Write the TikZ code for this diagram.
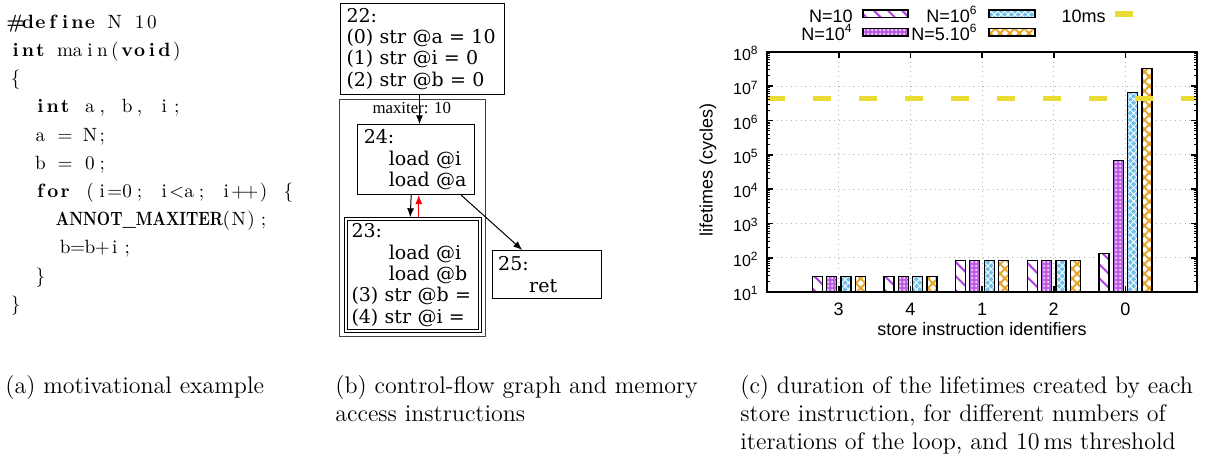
\documentclass[tikz,border=0pt]{standalone}
\usepackage{fontspec}
\usepackage{graphicx}
\usetikzlibrary{arrows.meta,patterns.meta}

\newfontfamily\chartfont{Liberation Sans}
\newfontfamily\cfgfont{DejaVu Serif}
\newfontfamily\clusterfont{Liberation Serif}

\definecolor{gpPurple}{RGB}{178,64,224}
\definecolor{gpBlue}{RGB}{112,192,236}
\definecolor{gpOrange}{RGB}{232,165,40}
\definecolor{gpYellow}{RGB}{234,220,50}

%% plot frame (pixels of the page)
\def\plotL{767}
\def\plotR{1197}
\def\plotT{52}
\def\plotB{292}
\def\plotDec{34.286}
\def\tenmsY{98.3}
%% listing
\def\codeX{9}
\def\codeY{28.3}
\def\codeSkip{28.2}

\newlength\colw
\setlength\colw{6.2pt}
\def\kwon{}
\def\kwoff{}
\def\chkwon{\kwon}
\def\chkwoff{\kwoff}
\makeatletter
\newcommand\codeline[1]{\@tfor\ch:=#1\do{%
  \ifx\ch\chkwon\bfseries\else\ifx\ch\chkwoff\mdseries\else
  \makebox[\colw][c]{\ch}\fi\fi}}
\makeatother

\tikzset{
  codetext/.style = {inner sep = 0, anchor = base west,
    font = \fontsize{9.6}{11}\selectfont},
  caption/.style = {inner sep = 0, anchor = north west, align = left,
    font = \fontsize{12}{14}\selectfont},
  cfgbox/.style = {draw, rectangle, anchor = north west, line width = 0.5pt,
    inner xsep = 3pt, inner ysep = 0pt, align = left,
    font = \cfgfont\fontsize{9.5}{10.65}\selectfont},
  cfgedge/.style = {-{Latex[length = 4.5pt, width = 3.5pt]}, line width = 0.5pt},
  chartgrid/.style = {gray!60, line width = 0.4pt, dash pattern = on 0.4pt off 2pt},
  charttext/.style = {inner sep = 0, font = \chartfont\fontsize{9}{10}\selectfont},
  ticklabel/.style = {inner sep = 0, anchor = base east,
    font = \chartfont\fontsize{8}{9}\selectfont},
  nten/.style = {draw = black, line width = 0.6pt, preaction = {fill = white},
    pattern = {Lines[angle = -45, distance = 5pt, line width = 1pt]},
    pattern color = gpPurple},
  ntenfour/.style = {draw = black, line width = 0.6pt, preaction = {fill = gpPurple!85},
    pattern = {Dots[distance = 2pt, radius = 0.5pt]}, pattern color = white},
  ntensix/.style = {draw = black, line width = 0.6pt, preaction = {fill = gpBlue},
    pattern = {Hatch[angle = 45, distance = 2.4pt, line width = 0.45pt]},
    pattern color = white},
  nfivesix/.style = {draw = black, line width = 0.6pt, preaction = {fill = white},
    pattern = {Hatch[angle = 45, distance = 3.4pt, line width = 1pt]},
    pattern color = gpOrange},
  tenms/.style = {gpYellow, line width = 2.8pt},
}

\begin{document}
\begin{tikzpicture}[x = 0.5pt, y = -0.5pt]
  \useasboundingbox (0,0) rectangle (1206,466);

  %% (a) listing
  \node [codetext] (line1) at (\codeX,{\codeY+0*\codeSkip})
    {\codeline{\kwon\#define\kwoff~N~10}};
  \node [codetext] (line2) at (\codeX,{\codeY+1*\codeSkip})
    {\codeline{\kwon int\kwoff~main(\kwon void\kwoff)}};
  \node [codetext] (line3) at (\codeX,{\codeY+2*\codeSkip})
    {\codeline{\{}};
  \node [codetext] (line4) at (\codeX,{\codeY+3*\codeSkip})
    {\codeline{~~\kwon int\kwoff~a,~b,~i;}};
  \node [codetext] (line5) at (\codeX,{\codeY+4*\codeSkip})
    {\codeline{~~a~=~N;}};
  \node [codetext] (line6) at (\codeX,{\codeY+5*\codeSkip})
    {\codeline{~~b~=~0;}};
  \node [codetext] (line7) at (\codeX,{\codeY+6*\codeSkip})
    {\codeline{~~\kwon for\kwoff~(i=0;~i<a;~i++)~\{}};
  \node [codetext] (line8) at (\codeX,{\codeY+7*\codeSkip})
    {\makebox[4\colw]{}\makebox[13\colw][c]{\scalebox{0.8}[1]{\bfseries ANNOT\_MAXITER}}\codeline{(N);}};
  \node [codetext] (line9) at (\codeX,{\codeY+8*\codeSkip})
    {\codeline{~~~~b=b+i;}};
  \node [codetext] (line10) at (\codeX,{\codeY+9*\codeSkip})
    {\codeline{~~\}}};
  \node [codetext] (line11) at (\codeX,{\codeY+10*\codeSkip})
    {\codeline{\}}};

  %% (b) control-flow graph
  \node [draw = black!75, line width = 0.5pt, anchor = north west, inner sep = 0,
    minimum width = 72.85pt, minimum height = 118.35pt] (loop) at (339.3,99.3) {};
  \node [inner sep = 0, font = \clusterfont\fontsize{8.4}{10}\selectfont]
    (loopLabel) at (411.7,108) {maxiter: 10};
  \node [cfgbox, minimum width = 82pt, text width = 76pt, minimum height = 45.65pt]
    (bb22) at (340,2.7)
    {22:\\(0) str @a = 10\\(1) str @i = 0\\(2) str @b = 0};
  \node [cfgbox, minimum width = 58.5pt, text width = 52.5pt, minimum height = 34.85pt]
    (bb24) at (357.3,124.3)
    {24:\\\hspace*{12.5pt}load @i\\\hspace*{12.5pt}load @a};
  \node [cfgbox, double, double distance = 1pt,
    minimum width = 67pt, text width = 61pt, minimum height = 56.2pt]
    (bb23) at (345,218.3)
    {23:\\\hspace*{18.7pt}load @i\\\hspace*{18.7pt}load @b\\(3) str @b =\\(4) str @i =};
  \node [cfgbox, minimum width = 54.65pt, text width = 48.65pt, minimum height = 24.15pt]
    (bb25) at (491.7,250)
    {25:\\\hspace*{15.5pt}ret};
  \draw [cfgedge] ([xshift = -1.5pt]bb22.south) -- ([xshift = 1.6pt]bb24.north);
  \draw [cfgedge] ([xshift = -2.55pt]bb24.south) -- ([xshift = -1.15pt, yshift = 0.5pt]bb23.north);
  \draw [cfgedge, red] ([xshift = 3.15pt, yshift = 0.5pt]bb23.north) -- ([xshift = 1.25pt]bb24.south);
  \draw [cfgedge] ([xshift = -7.15pt]bb24.south east) -- ([xshift = -12.3pt]bb25.north);

  %% (c) grid
  \foreach \cx in {838.7,910.3,982,1053.7,1125.3}
    \draw [chartgrid] (\cx,\plotT) -- (\cx,\plotB);
  \foreach \d in {2,...,7}
    \draw [chartgrid] (\plotL,{\plotB-(\d-1)*\plotDec}) -- (\plotR,{\plotB-(\d-1)*\plotDec});

  %% bars
  \foreach \cx/\va/\vb/\vc/\vd in {838.7/1.45/1.45/1.45/1.45, 910.3/1.45/1.45/1.45/1.45,
      982/1.92/1.92/1.92/1.92, 1053.7/1.92/1.92/1.92/1.92, 1125.3/2.13/4.83/6.82/7.52} {
    \draw [nten] ({\cx-26.3},\plotB) rectangle ({\cx-16.3},{\plotB-(\va-1)*\plotDec});
    \draw [ntenfour] ({\cx-12.2},\plotB) rectangle ({\cx-2.2},{\plotB-(\vb-1)*\plotDec});
    \draw [ntensix] ({\cx+2.2},\plotB) rectangle ({\cx+12.2},{\plotB-(\vc-1)*\plotDec});
    \draw [nfivesix] ({\cx+16.6},\plotB) rectangle ({\cx+26.6},{\plotB-(\vd-1)*\plotDec});
  }

  %% 10ms threshold
  \draw [tenms, dash pattern = on 9pt off 14pt] (\plotL,\tenmsY) -- (\plotR,\tenmsY);

  %% ticks
  \foreach \d in {1,...,8} {
    \draw [line width = 0.8pt] (\plotL,{\plotB-(\d-1)*\plotDec}) -- ++(6,0);
    \draw [line width = 0.8pt] (\plotR,{\plotB-(\d-1)*\plotDec}) -- ++(-6,0);
  }
  \foreach \d in {1,...,7}
    \foreach \m in {2,...,9} {
      \draw [line width = 0.5pt] (\plotL,{\plotB-(\d-1+log10(\m))*\plotDec}) -- ++(3,0);
      \draw [line width = 0.5pt] (\plotR,{\plotB-(\d-1+log10(\m))*\plotDec}) -- ++(-3,0);
    }
  \foreach \cx in {838.7,910.3,982,1053.7,1125.3} {
    \draw [line width = 0.8pt] (\cx,\plotT) -- ++(0,6);
    \draw [line width = 0.8pt] (\cx,\plotB) -- ++(0,-6);
  }
  \draw [line width = 1.2pt] (\plotL,\plotT) rectangle (\plotR,\plotB);

  %% tick labels
  \foreach \d in {1,...,8}
    \node [ticklabel] (ytick\d) at (759,{\plotB-(\d-1)*\plotDec+8.5}) {10\textsuperscript{\d}};
  \foreach \cx/\lab in {838.7/3,910.3/4,982/1,1053.7/2,1125.3/0}
    \node [charttext, anchor = base] (xtick\lab) at (\cx,315.5) {\lab};
  \node [charttext, anchor = base] (xlabel) at (982,335) {store instruction identifiers};
  \node [charttext, rotate = 90] (ylabel) at (708,170) {lifetimes (cycles)};

  %% legend
  \node [charttext, anchor = base east] (keyA) at (853,22) {N=10};
  \node [charttext, anchor = base east] (keyB) at (853,40.5) {N=10\textsuperscript{4}};
  \node [charttext, anchor = base east] (keyC) at (978,22) {N=10\textsuperscript{6}};
  \node [charttext, anchor = base east] (keyD) at (978,40.5) {N=5.10\textsuperscript{6}};
  \node [charttext, anchor = base east] (keyE) at (1106,22) {10ms};
  \draw [nten] (863,10) rectangle (908,17.5);
  \draw [ntenfour] (863,28.5) rectangle (908,36);
  \draw [ntensix] (989,10) rectangle (1035,17.5);
  \draw [nfivesix] (989,28.5) rectangle (1035,36);
  \draw [tenms] (1115,14) -- (1133,14);

  %% captions
  \node [caption] (capA) at (5,375) {(a) motivational example};
  \node [caption] (capB) at (335,375) {(b) control-flow graph and memory\\access instructions};
  \node [caption] (capC) at (740,375)
    {(c) duration of the lifetimes created by each\\store instruction, for different numbers of\\iterations of the loop, and 10\,ms threshold};
\end{tikzpicture}
\end{document}
